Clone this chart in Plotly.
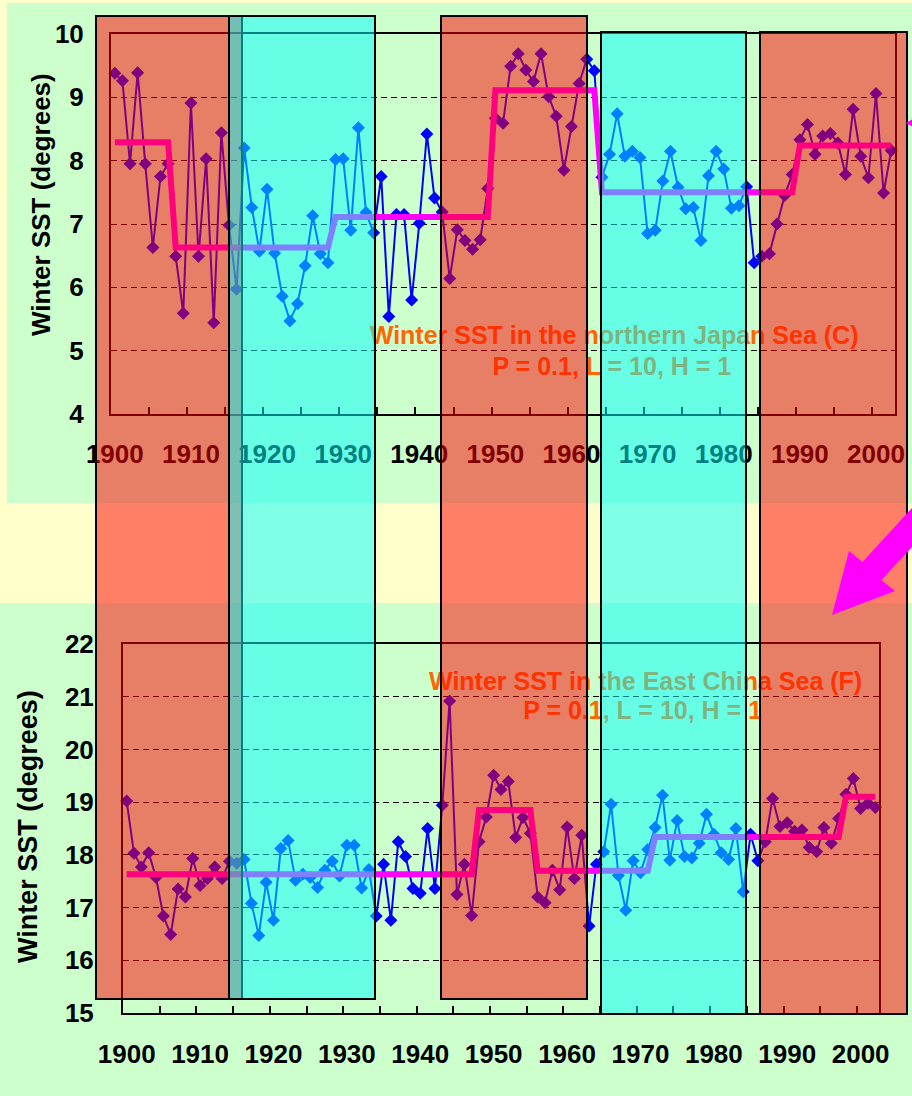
import plotly.graph_objects as go

W, H = 912, 1096

# ---------------- data ----------------
years = list(range(1900, 2003))

top_sst = [9.38, 9.26, 7.95, 9.39, 7.95, 6.63, 7.75, 7.95, 6.49, 5.59,
           8.91, 6.49, 8.03, 5.44, 8.44, 6.98, 5.97, 8.20, 7.26, 6.57,
           7.55, 6.54, 5.86, 5.47, 5.74, 6.34, 7.13, 6.53, 6.39, 8.02,
           8.03, 6.90, 8.52, 7.18, 6.86, 7.75, 5.54, 7.15, 7.15, 5.80,
           7.01, 8.42, 7.41, 7.19, 6.14, 6.91, 6.74, 6.60, 6.75, 7.56,
           8.67, 8.59, 9.49, 9.69, 9.43, 9.25, 9.69, 9.01, 8.70, 7.85,
           8.54, 9.22, 9.60, 9.42, 7.74, 8.10, 8.74, 8.07, 8.15, 8.05,
           6.85, 6.90, 7.68, 8.15, 7.58, 7.24, 7.26, 6.74, 7.76, 8.15,
           7.87, 7.25, 7.29, 7.59, 6.39, 6.49, 6.53, 7.00, 7.45, 7.78,
           8.33, 8.57, 8.10, 8.39, 8.43, 8.28, 7.78, 8.81, 8.07, 7.73,
           9.06, 7.49, 8.16]

bot_sst = [19.02, 18.03, 17.77, 18.04, 17.57, 16.84, 16.49, 17.35, 17.20, 17.93,
           17.42, 17.55, 17.77, 17.55, 17.88, 17.84, 17.91, 17.08, 16.47, 17.48,
           16.76, 18.12, 18.27, 17.52, 17.63, 17.57, 17.38, 17.71, 17.88, 17.60,
           18.18, 18.18, 17.37, 17.72, 16.84, 17.82, 16.76, 18.25, 17.97, 17.36,
           17.27, 18.50, 17.36, 18.94, 20.92, 17.25, 17.82, 16.85, 18.25, 18.72,
           19.51, 19.24, 19.39, 18.33, 18.71, 18.41, 17.20, 17.09, 17.71, 17.34,
           18.53, 17.55, 18.37, 16.65, 17.82, 18.06, 18.96, 17.61, 16.95, 17.89,
           17.66, 18.10, 18.52, 19.13, 17.90, 18.65, 17.97, 17.94, 18.22, 18.77,
           18.39, 18.04, 17.91, 18.50, 17.30, 18.39, 17.89, 18.25, 19.07, 18.54,
           18.61, 18.45, 18.47, 18.14, 18.06, 18.52, 18.22, 18.69, 19.15, 19.45,
           18.88, 18.98, 18.90]

# regime shifts (STARS, P = 0.1, L = 10, H = 1)
top_regime_starts = [1900, 1908, 1929, 1950, 1964, 1990]
top_regime_means = [8.29, 6.63, 7.11, 9.11, 7.50, 8.24]
bot_regime_starts = [1900, 1948, 1956, 1972, 1998]
bot_regime_means = [17.63, 18.85, 17.70, 18.34, 19.10]

year_labels = list(range(1900, 2001, 10))
top_y_ticks = list(range(4, 11))
bot_y_ticks = list(range(15, 23))

top_title = ["Winter SST in the northern Japan Sea (C)", "P = 0.1, L = 10, H = 1"]
bot_title = ["Winter SST in the East China Sea (F)", "P = 0.1, L = 10, H = 1"]
y_title = "Winter SST (degrees)"


def regime_series(starts, means):
    out = []
    for y in years:
        val = means[0]
        for s, m in zip(starts, means):
            if y >= s:
                val = m
        out.append(val)
    return out


top_step = regime_series(top_regime_starts, top_regime_means)
bot_step = regime_series(bot_regime_starts, bot_regime_means)


def PX(x):
    return x / W


def PY(y):
    return 1 - y / H


FONT = "Liberation Sans, Arial, sans-serif"
BLUE = "#0000FF"
MAG = "#FF00FF"
ORANGE = "#FF6600"

fig = go.Figure()

for xa, ya, vals, step in (("x", "y", top_sst, top_step), ("x2", "y2", bot_sst, bot_step)):
    fig.add_trace(go.Scatter(x=years, y=vals, xaxis=xa, yaxis=ya, mode="lines+markers",
                             line=dict(color=BLUE, width=2),
                             marker=dict(symbol="diamond", size=10, color=BLUE),
                             hoverinfo="skip", showlegend=False, cliponaxis=False))
    fig.add_trace(go.Scatter(x=years, y=step, xaxis=xa, yaxis=ya, mode="lines",
                             line=dict(color=MAG, width=6),
                             hoverinfo="skip", showlegend=False))

# chart captions (kept below the translucent boxes)
fig.add_trace(go.Scatter(x=[1965.6, 1965.3], y=[5.20, 4.71], xaxis="x", yaxis="y",
                         mode="text", text=top_title,
                         textfont=dict(family=FONT, size=25, color=ORANGE, weight="bold"),
                         textposition="middle center", hoverinfo="skip", showlegend=False))
fig.add_trace(go.Scatter(x=[1970.7, 1970.3], y=[21.25, 20.69], xaxis="x2", yaxis="y2",
                         mode="text", text=bot_title,
                         textfont=dict(family=FONT, size=25, color=ORANGE, weight="bold"),
                         textposition="middle center", hoverinfo="skip", showlegend=False))

# invisible traces to activate the label overlay axes
fig.add_trace(go.Scatter(x=[1950], y=[7], xaxis="x3", yaxis="y", mode="markers",
                         marker=dict(opacity=0), hoverinfo="skip", showlegend=False))
fig.add_trace(go.Scatter(x=[1950], y=[18], xaxis="x4", yaxis="y2", mode="markers",
                         marker=dict(opacity=0), hoverinfo="skip", showlegend=False))

tickfont = dict(family=FONT, size=26, color="black", weight="bold")
tick_marks = [y + 4.5 for y in range(1900, 2000, 5)]


def xaxis_cfg(domain, anchor):
    # main axis: frame + tick marks every 5 years (between categories)
    return dict(domain=domain, anchor=anchor, range=[1899.5, 2002.5], automargin=False,
                tickmode="array", tickvals=tick_marks, ticktext=["" for _ in tick_marks],
                ticks="inside", ticklen=7, tickwidth=2, tickcolor="black",
                showline=True, mirror=True, linecolor="black", linewidth=2,
                showgrid=False, zeroline=False)


def label_axis_cfg(overlay, anchor, standoff):
    return dict(overlaying=overlay, anchor=anchor, side="bottom", range=[1899.5, 2002.5],
                automargin=False, tickmode="array", tickvals=year_labels,
                ticktext=[str(v) for v in year_labels], ticks="",
                showline=False, showgrid=False, zeroline=False,
                tickfont=tickfont, ticklabelstandoff=standoff)


def yaxis_cfg(domain, anchor, rng, tv, standoff):
    return dict(domain=domain, anchor=anchor, range=rng, tickmode="array", tickvals=tv,
                automargin=False,
                ticks="", showline=True, mirror=True, linecolor="black", linewidth=2,
                showgrid=True, gridcolor="black", gridwidth=1.3, griddash="6px,4px",
                zeroline=False, tickfont=tickfont, ticklabelstandoff=standoff)


shapes = []
# page backgrounds
shapes.append(dict(type="rect", xref="paper", yref="paper", x0=PX(7), x1=PX(912),
                   y0=PY(503), y1=PY(3), fillcolor="#CCFFCC", line=dict(width=0), layer="below"))
shapes.append(dict(type="rect", xref="paper", yref="paper", x0=PX(0), x1=PX(912),
                   y0=PY(1096), y1=PY(603), fillcolor="#CCFFCC", line=dict(width=0), layer="below"))

# regime boxes (translucent, above the charts)
RED = "rgba(255,0,0,0.5)"
CYAN = "rgba(0,255,255,0.5)"
boxes = [(96, 242, 16, 999, RED), (229, 375, 16, 999, CYAN),
         (441, 587, 16, 999, RED), (601, 746, 32, 1014, CYAN),
         (760, 907, 32, 1014, RED)]
for x0, x1, y0, y1, col in boxes:
    shapes.append(dict(type="rect", xref="paper", yref="paper", x0=PX(x0), x1=PX(x1),
                       y0=PY(y1), y1=PY(y0), fillcolor=col,
                       line=dict(color="black", width=2), layer="above"))

# magenta arrows
arrow = [(936, 521), (881.5, 580), (895, 591), (832, 615), (849, 551),
         (862.5, 562), (916.5, 503)]
path = "M " + " L ".join(f"{PX(x):.5f},{PY(y):.5f}" for x, y in arrow) + " Z"
shapes.append(dict(type="path", xref="paper", yref="paper", path=path,
                   fillcolor=MAG, line=dict(width=0), layer="above"))
small = [(906, 123), (916, 117), (916, 129)]
path2 = "M " + " L ".join(f"{PX(x):.5f},{PY(y):.5f}" for x, y in small) + " Z"
shapes.append(dict(type="path", xref="paper", yref="paper", path=path2,
                   fillcolor=MAG, line=dict(width=0), layer="above"))

annotations = [
    dict(text=y_title, xref="paper", yref="paper", x=PX(41), y=PY(205), showarrow=False,
         textangle=-90, xanchor="center", yanchor="middle",
         font=dict(family=FONT, size=26, color="black", weight="bold")),
    dict(text=y_title, xref="paper", yref="paper", x=PX(28), y=PY(827), showarrow=False,
         textangle=-90, xanchor="center", yanchor="middle",
         font=dict(family=FONT, size=27, color="black", weight="bold")),
]

fig.update_layout(
    width=W, height=H, autosize=False,
    margin=dict(l=0, r=0, t=0, b=0, pad=0, autoexpand=False),
    paper_bgcolor="#FFFFCC", plot_bgcolor="rgba(0,0,0,0)",
    showlegend=False,
    xaxis=xaxis_cfg([PX(111), PX(895)], "y"),
    yaxis=yaxis_cfg([PY(414), PY(34)], "x", [4, 10], top_y_ticks, 20),
    xaxis2=xaxis_cfg([PX(123), PX(879)], "y2"),
    yaxis2=yaxis_cfg([PY(1013), PY(644)], "x2", [15, 22], bot_y_ticks, 22),
    xaxis3=label_axis_cfg("x", "y", 22),
    xaxis4=label_axis_cfg("x2", "y2", 23),
    shapes=shapes, annotations=annotations,
)

fig.write_html("out.html", config={"displayModeBar": False},
               post_script=["document.body.style.margin='0px';"
                            "document.body.style.overflow='hidden';"])
